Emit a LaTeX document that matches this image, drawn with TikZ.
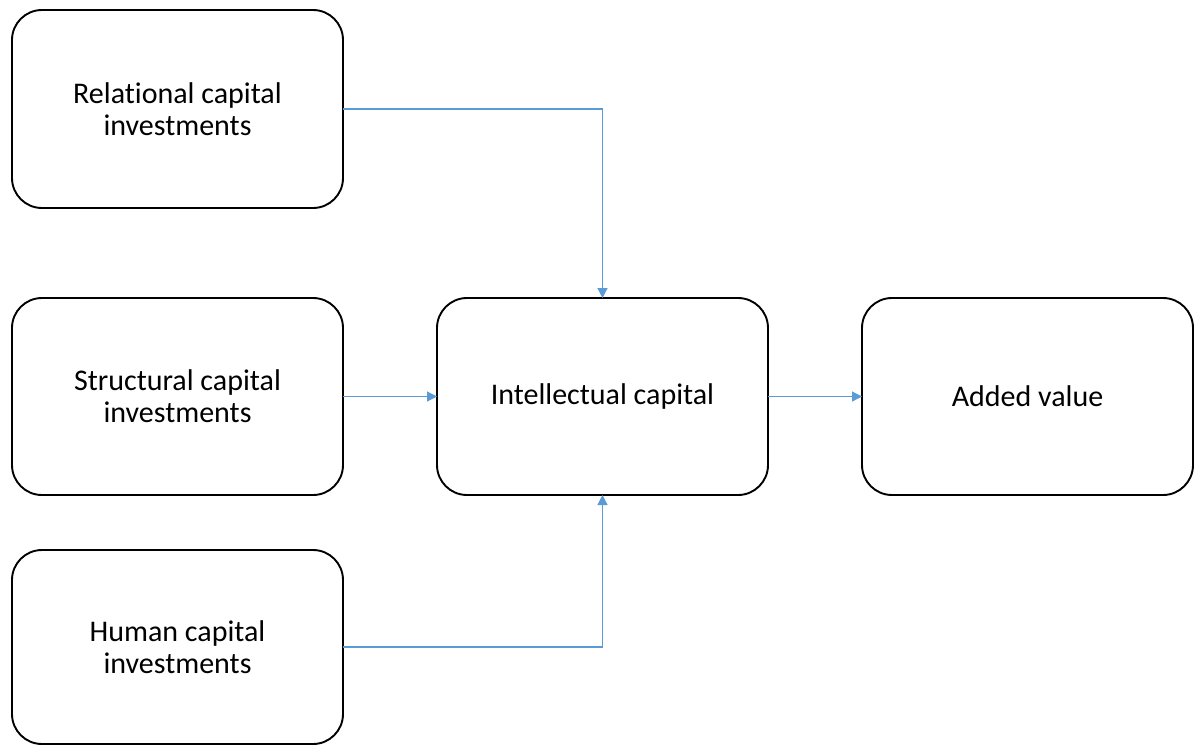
\documentclass[tikz,border=0pt]{standalone}
\usepackage{fontspec}
\setmainfont[Ligatures=NoCommon]{Carlito}
\usetikzlibrary{arrows.meta}
\definecolor{arrowblue}{RGB}{91,155,213}
\begin{document}
\begin{tikzpicture}[x=0.5pt,y=-0.5pt,
  box/.style={draw=black,line width=0.95pt,rounded corners=15pt,
    minimum width=165.5pt,inner sep=0pt,outer sep=0pt,align=center,
    font=\fontsize{15}{16}\selectfont},
  conn/.style={draw=arrowblue,line width=0.6pt,
    -{Triangle[length=5pt,width=5pt]}}]
\useasboundingbox (0,0) rectangle (1199,745);
\node[box,minimum height=99pt] (rel) at (177.5,109) {Relational capital\\investments};
\node[box,minimum height=98.5pt] (str) at (177.5,396.5) {Structural capital\\investments};
\node[box,minimum height=97pt] (hum) at (177.5,647) {Human capital\\investments};
\node[box,minimum height=98.5pt] (ic) at (602.5,396.5) {Intellectual capital};
\node[box,minimum height=98.5pt] (av) at (1027.5,396.5) {Added value};
\draw[conn] (rel.east) -| (ic.north);
\draw[conn] (str.east) -- (ic.west);
\draw[conn] (hum.east) -| (ic.south);
\draw[conn] (ic.east) -- (av.west);
\end{tikzpicture}
\end{document}
